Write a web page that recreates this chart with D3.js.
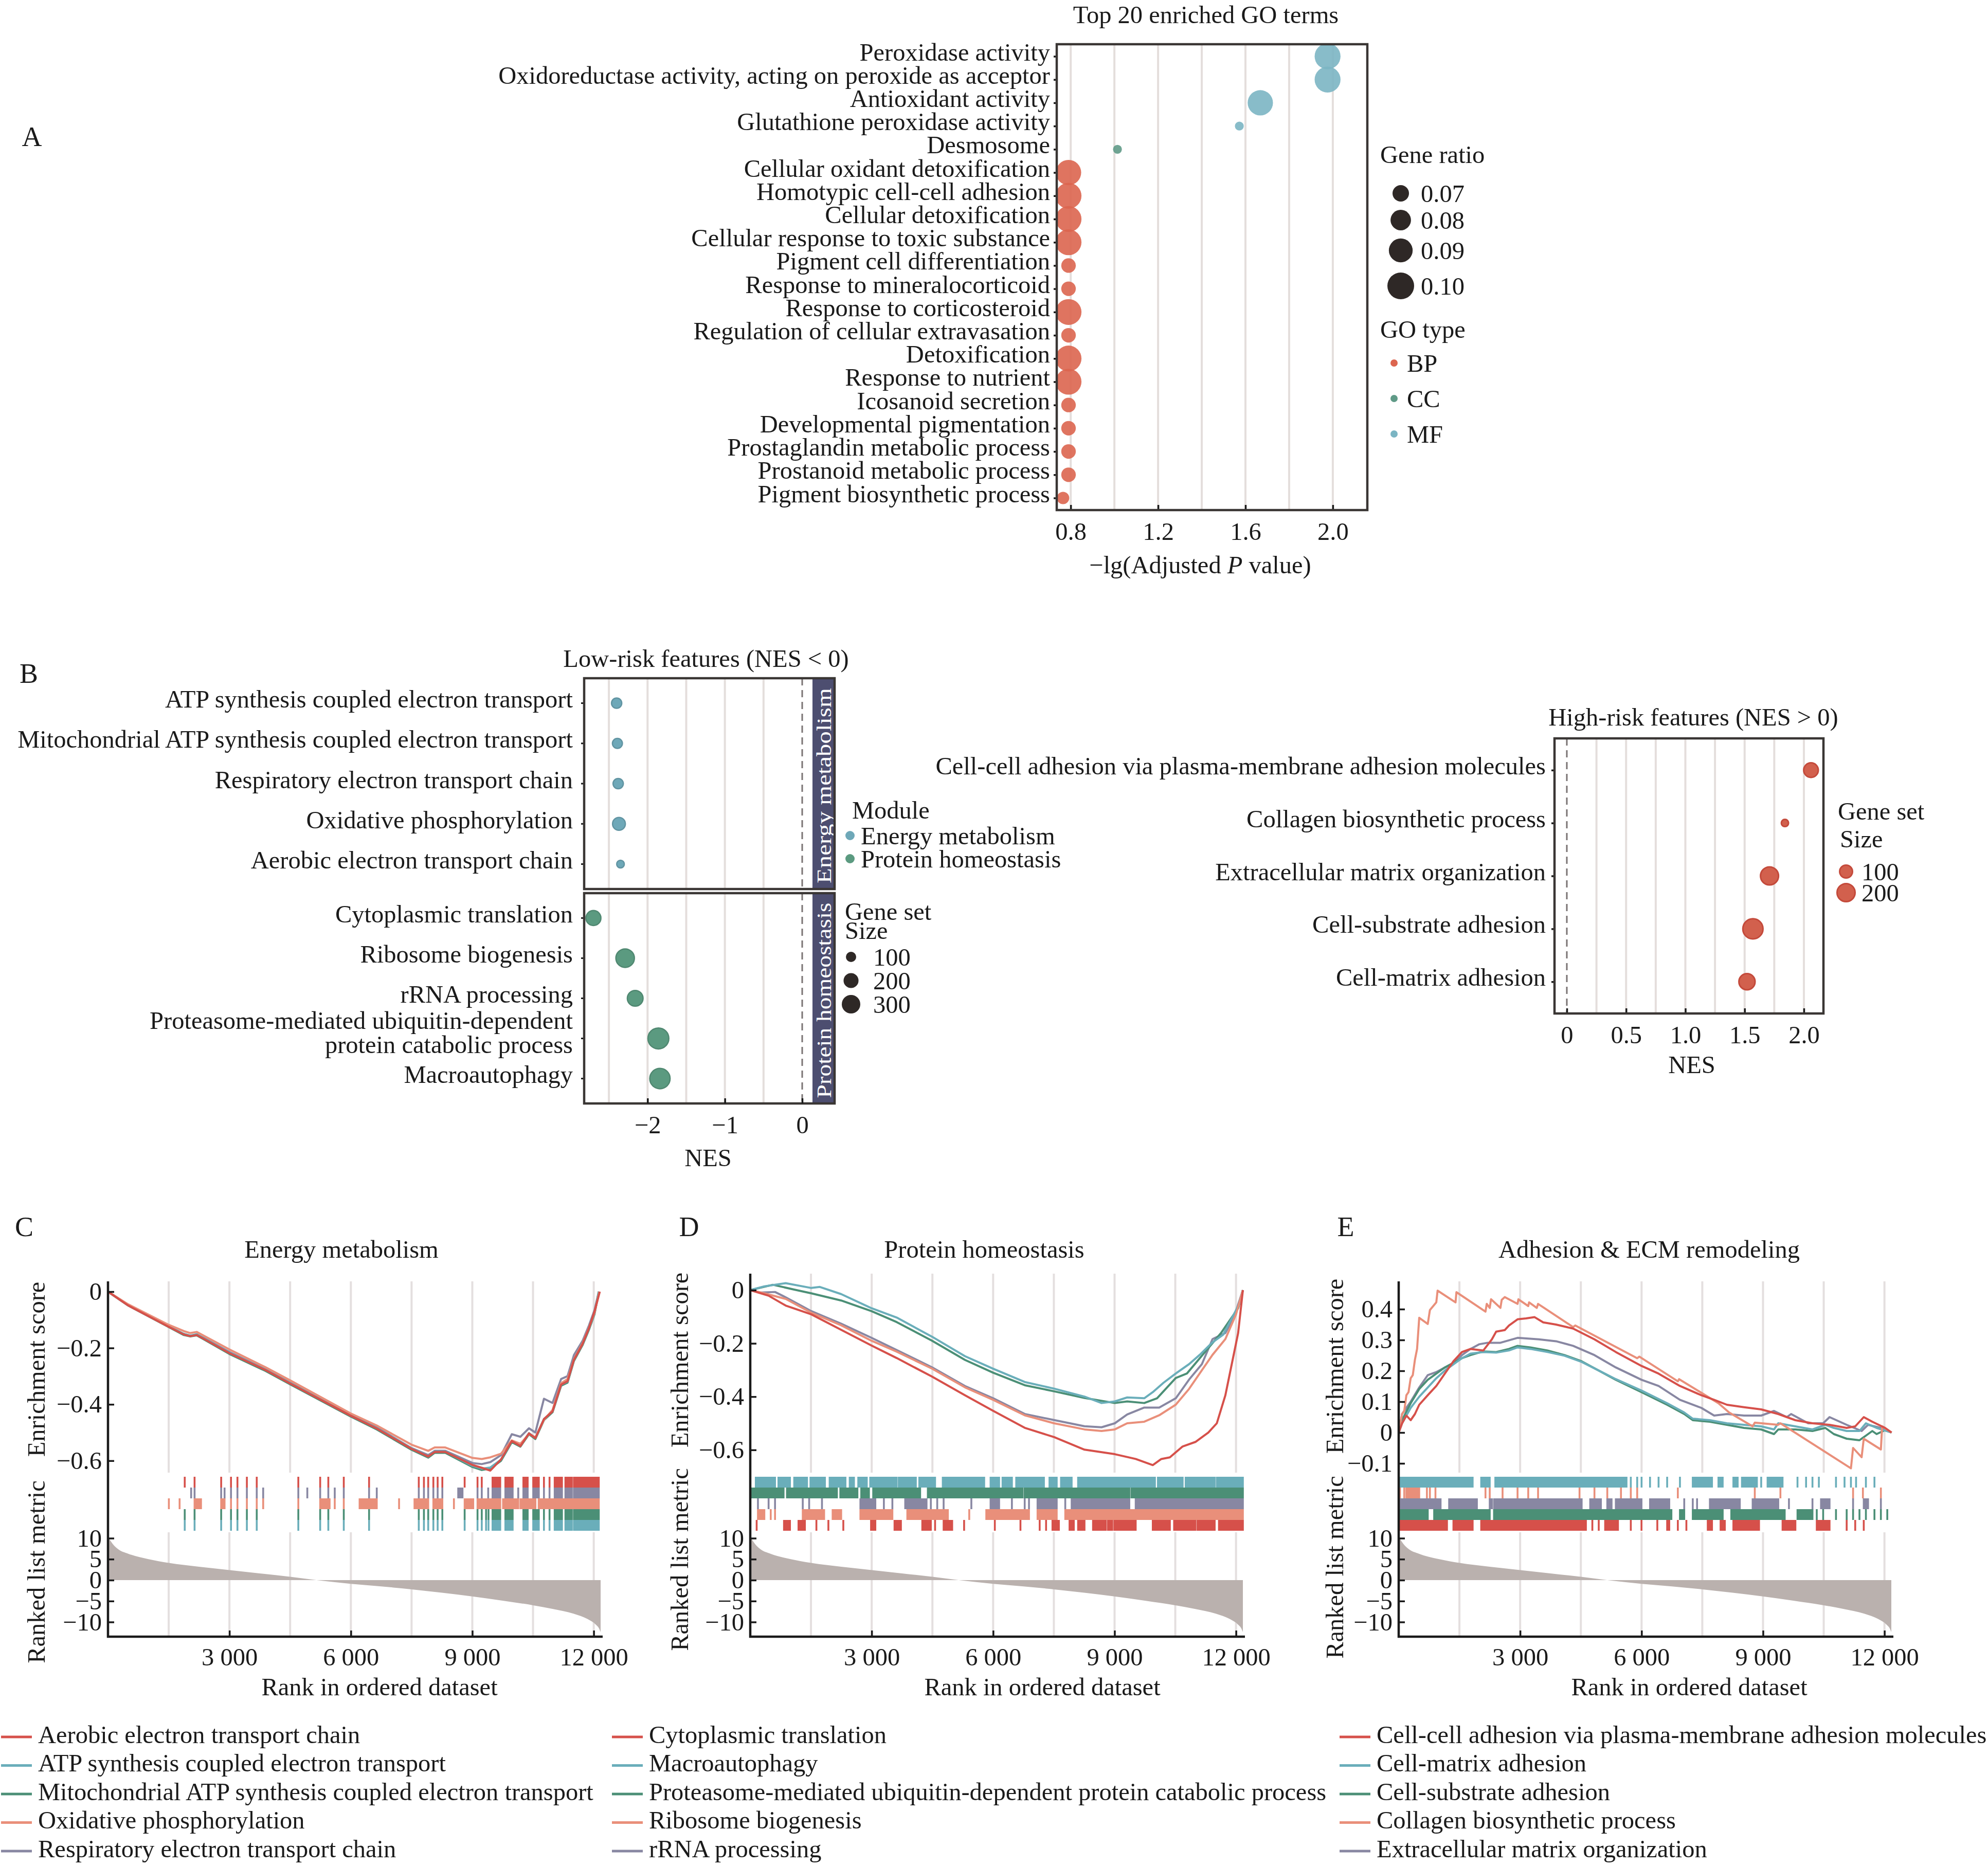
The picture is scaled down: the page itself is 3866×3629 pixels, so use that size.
<!DOCTYPE html>
<html>
<head>
<meta charset="utf-8">
<script src="https://cdn.jsdelivr.net/npm/d3@7"></script>
<style>
  body { margin: 0; background: #fff; }
  text { font-family: "Liberation Serif", "Times New Roman", serif; fill: #1a1a1a; }
</style>
</head>
<body>
<div id="app"></div>
<script>
// ---------- data: panel A (GO terms) ----------
const goTerms = ["Peroxidase activity", "Oxidoreductase activity, acting on peroxide as acceptor",
  "Antioxidant activity", "Glutathione peroxidase activity", "Desmosome",
  "Cellular oxidant detoxification", "Homotypic cell-cell adhesion", "Cellular detoxification",
  "Cellular response to toxic substance", "Pigment cell differentiation", "Response to mineralocorticoid",
  "Response to corticosteroid", "Regulation of cellular extravasation", "Detoxification",
  "Response to nutrient", "Icosanoid secretion", "Developmental pigmentation",
  "Prostaglandin metabolic process", "Prostanoid metabolic process", "Pigment biosynthetic process"];
const goScore = [1.976, 1.976, 1.668, 1.572, 1.014, 0.79, 0.79, 0.79, 0.79, 0.79,
  0.79, 0.79, 0.79, 0.79, 0.79, 0.79, 0.79, 0.79, 0.79, 0.765];
const goRatio = [0.097, 0.097, 0.095, 0.057, 0.057, 0.095, 0.097, 0.097, 0.097, 0.066,
  0.066, 0.097, 0.066, 0.097, 0.097, 0.066, 0.066, 0.066, 0.066, 0.062];
const goType = ["MF", "MF", "MF", "MF", "CC", "BP", "BP", "BP", "BP", "BP",
  "BP", "BP", "BP", "BP", "BP", "BP", "BP", "BP", "BP", "BP"];
const goTypes = ["BP", "CC", "MF"];
const goRatioLegend = [0.07, 0.08, 0.09, 0.10];
const goTicks = [0.8, 1.2, 1.6, 2.0];

// ---------- data: panel B (NES dot plots) ----------
const modules = ["Energy metabolism", "Protein homeostasis"];
const lowTerms = ["ATP synthesis coupled electron transport", "Mitochondrial ATP synthesis coupled electron transport",
  "Respiratory electron transport chain", "Oxidative phosphorylation", "Aerobic electron transport chain",
  "Cytoplasmic translation", "Ribosome biogenesis", "rRNA processing",
  "Proteasome-mediated ubiquitin-dependent protein catabolic process", "Macroautophagy"];
const lowModule = [0, 0, 0, 0, 0, 1, 1, 1, 1, 1];
const lowNES = [-2.40, -2.39, -2.38, -2.37, -2.35, -2.70, -2.29, -2.16, -1.86, -1.84];
const lowSize = [100, 95, 100, 150, 60, 200, 300, 220, 380, 360];
const lowSizeLegend = [100, 200, 300];
const lowTicks = [-2, -1, 0];

const highTerms = ["Cell-cell adhesion via plasma-membrane adhesion molecules", "Collagen biosynthetic process",
  "Extracellular matrix organization", "Cell-substrate adhesion", "Cell-matrix adhesion"];
const highNES = [2.06, 1.84, 1.71, 1.57, 1.52];
const highSize = [130, 30, 200, 250, 160];
const highSizeLegend = [100, 200];
const highTicks = [0, 0.5, 1.0, 1.5, 2.0];

// ---------- data: panels C-E (GSEA running sums) ----------
const rankMax = 12170;
const rankTicks = [3000, 6000, 9000, 12000];
const rankedMetric = [[0, 10.3], [120, 8.6], [250, 7.4], [500, 6.3], [1000, 5.0], [1500, 4.1], [2250, 3.2],
  [3000, 2.4], [3750, 1.6], [4500, 0.8], [5150, 0], [6000, -0.9], [6750, -1.5], [7500, -2.2], [8250, -3.0],
  [9000, -3.9], [9750, -4.9], [10500, -6.0], [11000, -6.9], [11500, -8.0], [11850, -9.3], [12050, -10.6],
  [12130, -11.5], [12170, -12.4]];

const energySets = ["Aerobic electron transport chain", "ATP synthesis coupled electron transport",
  "Mitochondrial ATP synthesis coupled electron transport", "Oxidative phosphorylation",
  "Respiratory electron transport chain"];
const energyES = [
  [[0,0],[498,-0.049],[1504,-0.125],[1874,-0.152],[2033,-0.158],[2192,-0.154],[2351,-0.166],[2997,-0.218],[3887,-0.278],[4501,-0.326],[5994,-0.440],[6640,-0.486],[7498,-0.558],[7911,-0.585],[8070,-0.569],[8334,-0.569],[9002,-0.615],[9234,-0.625],[9446,-0.635],[9711,-0.595],[9976,-0.530],[10188,-0.548],[10400,-0.503],[10558,-0.520],[10770,-0.452],[10982,-0.425],[11194,-0.330],[11353,-0.318],[11511,-0.242],[11723,-0.186],[11882,-0.130],[12020,-0.070],[12150,0]],
  [[0,0],[498,-0.047],[1504,-0.123],[1874,-0.150],[2033,-0.156],[2192,-0.151],[2351,-0.164],[2997,-0.217],[3887,-0.277],[4501,-0.325],[5994,-0.439],[6640,-0.485],[7498,-0.557],[7911,-0.585],[8070,-0.568],[8334,-0.568],[9002,-0.618],[9234,-0.628],[9446,-0.624],[9711,-0.596],[9976,-0.530],[10188,-0.546],[10400,-0.502],[10558,-0.519],[10770,-0.452],[10982,-0.424],[11194,-0.330],[11353,-0.319],[11511,-0.242],[11723,-0.186],[11882,-0.131],[12020,-0.076],[12130,0]],
  [[0,0],[498,-0.049],[1504,-0.126],[1874,-0.154],[2033,-0.159],[2192,-0.155],[2351,-0.168],[2997,-0.221],[3887,-0.281],[4501,-0.329],[5994,-0.443],[6640,-0.489],[7498,-0.561],[7911,-0.589],[8070,-0.572],[8334,-0.572],[9002,-0.622],[9234,-0.633],[9446,-0.628],[9711,-0.600],[9976,-0.534],[10188,-0.550],[10400,-0.506],[10558,-0.523],[10770,-0.456],[10982,-0.428],[11194,-0.334],[11353,-0.323],[11511,-0.246],[11723,-0.190],[11882,-0.135],[12020,-0.080],[12125,0]],
  [[0,0],[498,-0.045],[1504,-0.118],[1874,-0.140],[2033,-0.147],[2192,-0.143],[2351,-0.155],[2997,-0.205],[3887,-0.268],[4501,-0.315],[5994,-0.432],[6640,-0.475],[7498,-0.543],[7911,-0.565],[8070,-0.553],[8334,-0.553],[9002,-0.590],[9234,-0.594],[9446,-0.588],[9711,-0.575],[9976,-0.528],[10188,-0.540],[10400,-0.505],[10558,-0.517],[10770,-0.455],[10982,-0.420],[11194,-0.325],[11353,-0.310],[11511,-0.240],[11723,-0.183],[11882,-0.128],[12020,-0.075],[12140,0]],
  [[0,0],[498,-0.049],[1504,-0.124],[1874,-0.150],[2033,-0.157],[2192,-0.152],[2351,-0.163],[2997,-0.214],[3887,-0.275],[4501,-0.323],[5994,-0.437],[6640,-0.482],[7498,-0.555],[7911,-0.580],[8070,-0.565],[8334,-0.565],[9002,-0.608],[9234,-0.612],[9446,-0.605],[9711,-0.580],[9976,-0.506],[10188,-0.515],[10400,-0.485],[10558,-0.500],[10770,-0.380],[10982,-0.395],[11194,-0.310],[11353,-0.300],[11511,-0.225],[11723,-0.175],[11882,-0.120],[12020,-0.065],[12125,0]]
];
const energyHits = [
  [1896,2139,2796,3039,3198,3431,3675,4702,5242,5443,5825,6450,7678,7805,7911,8038,8144,8260,8811,9129,9234,[9500,9690],[9817,9997],[10262,10368],[10505,10643],10770,10908,[11035,11215],[11300,11459],[11511,11776],[11808,12125]],
  [1896,2139,2796,3039,3198,3431,3675,4702,5242,5443,5825,6450,7678,7805,7911,8038,8144,8260,8811,9129,9234,9340,9400,[9500,9690],[9817,9997],[10262,10368],[10505,10643],10770,10908,[11035,11215],[11300,11459],[11511,11776],[11808,12125]],
  [1896,2139,2796,3039,3198,3431,3675,4702,5242,5443,5825,6450,7678,7805,7911,8038,8144,8260,8811,9129,9234,9340,9400,[9500,9690],[9817,9997],[10262,10368],[10505,10643],10770,10908,[11035,11215],[11300,11459],[11511,11776],[11808,12125]],
  [1504,1769,[2139,2298],[2796,2880],3039,3198,3431,3675,3834,4702,[5242,5475],5602,5825,[6216,6640],7191,[7572,7911],[8038,8260],8546,[8811,9023],[9129,9690],[9760,10135],[10190,10560],[10640,12125]],
  [2054,2139,2796,2880,3039,3198,3431,3675,3834,4702,4924,5242,5443,5602,5825,6450,6640,7678,7805,7911,8038,8144,8260,[8652,8758],9129,9234,9393,[9500,9690],[9817,9997],10135,[10262,10368],[10505,10643],10770,10908,[11035,11215],[11300,11459],[11511,12125]]
];

const proteinSets = ["Cytoplasmic translation", "Macroautophagy",
  "Proteasome-mediated ubiquitin-dependent protein catabolic process", "Ribosome biogenesis", "rRNA processing"];
const proteinES = [
  [[0,0],[453,-0.021],[875,-0.058],[1508,-0.091],[2246,-0.149],[2995,-0.208],[3617,-0.255],[4492,-0.325],[5304,-0.395],[6000,-0.453],[6781,-0.517],[7508,-0.552],[8257,-0.599],[9006,-0.616],[9522,-0.634],[9944,-0.657],[10155,-0.634],[10366,-0.628],[10682,-0.587],[10998,-0.570],[11315,-0.535],[11526,-0.500],[11737,-0.395],[11895,-0.278],[12053,-0.161],[12170,0]],
  [[0,0],[348,0.014],[875,0.026],[1508,0.008],[1719,0.012],[2246,-0.015],[2995,-0.068],[3617,-0.103],[4492,-0.175],[5304,-0.248],[6000,-0.295],[6781,-0.345],[7508,-0.370],[8257,-0.400],[8679,-0.424],[9006,-0.418],[9311,-0.403],[9733,-0.406],[9944,-0.383],[10208,-0.348],[10513,-0.313],[10840,-0.278],[11104,-0.243],[11420,-0.196],[11684,-0.167],[11947,-0.091],[12106,-0.044],[12170,0]],
  [[0,0],[559,0.020],[1086,0.002],[1508,-0.012],[2246,-0.039],[2995,-0.079],[3617,-0.120],[4492,-0.190],[5304,-0.262],[6000,-0.310],[6781,-0.357],[7508,-0.380],[8257,-0.405],[9006,-0.424],[9311,-0.418],[9733,-0.424],[10050,-0.406],[10513,-0.330],[10788,-0.313],[11209,-0.237],[11631,-0.161],[11842,-0.114],[12053,-0.068],[12170,0]],
  [[0,0],[348,-0.012],[875,-0.033],[1508,-0.085],[2246,-0.132],[2995,-0.190],[3617,-0.231],[4492,-0.295],[5304,-0.365],[6000,-0.412],[6781,-0.470],[7508,-0.500],[8257,-0.523],[8679,-0.529],[9006,-0.523],[9311,-0.500],[9733,-0.494],[10102,-0.470],[10513,-0.430],[10840,-0.371],[11157,-0.301],[11420,-0.243],[11737,-0.184],[12000,-0.091],[12170,0]],
  [[0,0],[243,-0.009],[612,-0.007],[875,-0.027],[1508,-0.079],[2246,-0.126],[2995,-0.179],[3617,-0.225],[4492,-0.290],[5304,-0.360],[6000,-0.406],[6781,-0.465],[7508,-0.488],[8257,-0.511],[8679,-0.515],[9006,-0.500],[9311,-0.467],[9733,-0.441],[10102,-0.441],[10513,-0.406],[10840,-0.336],[11157,-0.278],[11420,-0.184],[11737,-0.161],[11947,-0.103],[12170,0]]
];
const proteinHits = [
  [158,[834,981],[1192,1350],1634,1930,2299,[2984,3090],[3564,3722],[4250,4461],4566,[4777,4988],5283,6042,6675,7150,7308,[7466,7624],[7888,7993],[8099,8257],[8468,8784],[8837,8942],[8995,9522],[9944,10366],[10471,10998],[11051,11473],[11579,12170]],
  [[137,612],[696,981],[1086,1403],[1487,1845],[1961,2352],[2457,2562],[2668,2879],[2963,3617],[3670,4091],[4176,4566],[4756,5779],[5937,6148],[6232,6464],[6570,7255],[7392,7571],[7677,7940],[8099,9997],[10071,10682],[10756,11473],[11526,12170]],
  [[0,823],[907,2141],[2225,2647],[2742,2932],[3037,4197],[4387,6728],[6780,9364],[9417,12170]],
  [[190,348],506,612,[1297,1825],[2035,2246],[2721,3511],[3880,4882],5410,[5831,6886],[7097,7571],[7782,12170]],
  [190,453,612,1297,1455,1772,[2721,3090],3301,3511,[3828,4355],4461,4619,4777,5462,[5937,6148],6464,6780,6886,[7097,7571],7782,[7940,9364],[9522,12170]]
];

const adhesionSets = ["Cell-cell adhesion via plasma-membrane adhesion molecules", "Cell-matrix adhesion",
  "Cell-substrate adhesion", "Collagen biosynthetic process", "Extracellular matrix organization"];
const adhesionES = [
  [[0,0],[84,0.030],[190,0.055],[296,0.040],[401,0.060],[507,0.090],[718,0.121],[929,0.151],[1140,0.191],[1352,0.231],[1563,0.261],[1774,0.271],[2091,0.266],[2302,0.302],[2408,0.327],[2619,0.332],[2724,0.347],[2936,0.367],[3147,0.370],[3358,0.374],[3570,0.357],[3886,0.350],[4308,0.337],[4836,0.302],[5364,0.261],[5998,0.216],[6420,0.191],[6948,0.151],[7476,0.121],[7793,0.106],[8110,0.090],[8532,0.082],[8955,0.075],[9377,0.060],[9800,0.040],[10222,0.030],[10644,0.025],[11067,0.015],[11278,0.020],[11489,0.050],[11700,0.035],[12017,0.015],[12176,0]],
  [[0,0],[84,0.030],[296,0.080],[507,0.116],[718,0.146],[929,0.176],[1140,0.201],[1352,0.221],[1563,0.241],[1774,0.256],[2091,0.261],[2408,0.259],[2724,0.266],[2936,0.276],[3252,0.271],[3675,0.261],[4097,0.249],[4520,0.229],[4942,0.201],[5364,0.173],[5998,0.136],[6632,0.095],[7054,0.065],[7265,0.045],[7688,0.040],[8110,0.030],[8532,0.025],[8955,0.020],[9272,0.010],[9377,0.030],[9800,0.020],[10222,0.010],[10539,0.025],[10750,0.015],[11067,0.005],[11383,0.005],[11542,0.030],[11806,0.015],[12176,0]],
  [[0,0],[84,0.040],[296,0.095],[507,0.141],[718,0.171],[929,0.191],[1140,0.211],[1352,0.226],[1563,0.241],[1774,0.251],[2091,0.263],[2408,0.261],[2724,0.271],[2936,0.281],[3252,0.276],[3675,0.266],[4097,0.251],[4520,0.231],[4942,0.201],[5364,0.171],[5998,0.131],[6632,0.090],[7054,0.060],[7265,0.040],[7688,0.035],[8110,0.025],[8532,0.015],[8955,0.010],[9272,-0.005],[9377,0.010],[9800,0.010],[10222,0.005],[10539,0.015],[10750,-0.005],[11067,-0.020],[11383,-0.025],[11542,-0.010],[11700,0.005],[11806,-0.005],[12017,0.008],[12176,0]],
  [[0,0],[84,0.060],[137,0.070],[190,0.121],[243,0.131],[296,0.176],[348,0.186],[401,0.236],[454,0.271],[507,0.372],[718,0.352],[771,0.397],[929,0.422],[961,0.460],[1404,0.422],[1426,0.455],[2144,0.392],[2175,0.417],[2249,0.404],[2281,0.432],[2513,0.404],[2545,0.430],[2619,0.439],[2936,0.417],[2957,0.432],[3200,0.410],[3221,0.422],[3411,0.404],[3443,0.417],[4308,0.342],[4361,0.347],[5892,0.241],[5945,0.246],[6896,0.166],[6927,0.173],[7899,0.095],[8163,0.065],[8744,0.020],[8797,0.032],[9377,0.025],[9430,0.030],[11172,-0.116],[11225,-0.050],[11436,-0.080],[11489,-0.020],[11912,-0.055],[11943,0.020],[12176,0]],
  [[0,0],[84,0.060],[296,0.100],[507,0.146],[718,0.186],[929,0.196],[1140,0.211],[1352,0.226],[1563,0.251],[1774,0.271],[1985,0.286],[2197,0.291],[2513,0.291],[2936,0.307],[3464,0.302],[3886,0.296],[4308,0.281],[4836,0.251],[5364,0.211],[5998,0.171],[6420,0.151],[6948,0.106],[7476,0.080],[7793,0.055],[8110,0.060],[8532,0.055],[8955,0.055],[9272,0.070],[9588,0.050],[9694,0.060],[10116,0.030],[10486,0.030],[10644,0.050],[11067,0.025],[11436,0.005],[11595,0.025],[11912,0.015],[12176,0]]
];
const adhesionHits = [
  [[32,1193],[1352,1827],[2038,4625],4784,4942,[5100,5417],5734,5998,6389,[6632,6684],6896,7107,[7635,7740],[7952,8057],[8268,8902],[9483,9800],[10328,10644],11067,11278,11489],
  [[0,1827],[2038,2249],[2387,5628],5734,5892,6000,6209,6420,6632,6948,[7265,7740],[7899,8004],[8268,8374],[8480,8849],8955,[9113,9483],9852,10064,10222,10380,10803,11014,11172,11299,11542,11753],
  [[0,718],[876,2249],[2355,6737],[6948,7054],[7265,8004],[8216,9536],[9852,10222],10328,10486,10803,11067,11225,11383,11542,11753,11912,12070],
  [32,137,[190,507],697,771,908,2144,2249,2566,2936,3200,3443,4467,4836,5153,5491,5734,5892,6896,8797,9430,11225,11468,11912],
  [[32,1035],[1246,1932],[2249,2302],[2355,4520],[4731,4995],[5153,5259],[5364,5998],[6209,6684],7054,7265,7371,[7688,8427],[8744,9377],9641,10222,[10433,10644],11225,[11489,11595],11912]
];

// ---------- drawing ----------
const W = 3866, H = 3629, FS = 48.5;
const setColors = ["#d6504a", "#6aaeba", "#4b8f76", "#e98f7a", "#8887a2"];
const ink = "#1a1a1a", frame = "#3a3634", gridCol = "#e4dedc";
const labelLift = -8;   // row labels sit a little above their tick

const svg = d3.select("#app").append("svg").attr("width", W).attr("height", H);
svg.append("rect").attr("width", W).attr("height", H).attr("fill", "#fff");

function txt(g, x, y, s, anchor, size) {
  return g.append("text").attr("x", x).attr("y", y)
    .attr("dominant-baseline", "central")
    .attr("text-anchor", anchor || "start")
    .attr("font-size", size || FS)
    .text(s);
}
function vtxt(g, x, y, s, size) {
  return g.append("text").attr("transform", `translate(${x},${y}) rotate(-90)`)
    .attr("dominant-baseline", "central").attr("text-anchor", "middle")
    .attr("font-size", size || FS).text(s);
}
function styleAxis(sel, keepDomain) {
  sel.attr("font-size", FS).attr("font-family", null).attr("color", ink);
  sel.selectAll(".tick line").attr("stroke-width", 3.5);
  if (!keepDomain) sel.select(".domain").remove();
}

// ===== Panel A =====
const gA = svg.append("g");
const aX = d3.scaleLinear().domain([0.736, 2.158]).range([2055, 2659]);
const aY = d3.scalePoint().domain(goTerms).range([86, 992]).padding(0.52);
const aArea = d3.scaleLinear().domain([0.07, 0.10]).range([256, 676]);
const aR = v => Math.sqrt(Math.max(aArea(v), 30));
const goColor = d3.scaleOrdinal().domain(goTypes).range(["#dc654f", "#5f9a87", "#7bb5c3"]);

gA.selectAll("line.grid").data(d3.range(0.8, 2.01, 0.2)).join("line")
  .attr("x1", d => aX(d)).attr("x2", d => aX(d)).attr("y1", 86).attr("y2", 992)
  .attr("stroke", gridCol).attr("stroke-width", 4);

const goData = goTerms.map((t, i) => ({ t, x: goScore[i], r: goRatio[i], type: goType[i] }));
gA.selectAll("circle.go").data(goData).join("circle")
  .attr("cx", d => aX(d.x)).attr("cy", d => aY(d.t)).attr("r", d => aR(d.r))
  .attr("fill", d => goColor(d.type)).attr("fill-opacity", 0.9);

gA.append("g").attr("transform", "translate(2055,0)")
  .call(d3.axisLeft(aY).tickSize(6).tickPadding(7))
  .call(styleAxis)
  .call(a => a.selectAll(".tick text").attr("y", labelLift));
gA.append("g").attr("transform", "translate(0,992)")
  .call(d3.axisBottom(aX).tickValues(goTicks).tickFormat(d3.format(".1f")).tickSize(-10).tickPadding(24))
  .call(styleAxis);
gA.append("rect").attr("x", 2055).attr("y", 86).attr("width", 604).attr("height", 906)
  .attr("fill", "none").attr("stroke", frame).attr("stroke-width", 4.5);

txt(gA, 2345, 28, "Top 20 enriched GO terms", "middle");
const xlabA = gA.append("text").attr("x", 2334).attr("y", 1098).attr("dominant-baseline", "central")
  .attr("text-anchor", "middle").attr("font-size", FS);
xlabA.append("tspan").text("\u2212lg(Adjusted ");
xlabA.append("tspan").attr("font-style", "italic").text("P");
xlabA.append("tspan").text(" value)");
txt(gA, 62, 266, "A", "middle", 54);

// legends A
txt(gA, 2684, 300, "Gene ratio");
const ratioY = [376, 428, 487, 556];
goRatioLegend.forEach((v, i) => {
  gA.append("circle").attr("cx", 2724).attr("cy", ratioY[i]).attr("r", aR(v)).attr("fill", "#2e2826");
  txt(gA, 2763, ratioY[i], d3.format(".2f")(v));
});
txt(gA, 2684, 640, "GO type");
goTypes.forEach((t, i) => {
  const y = 706 + i * 69;
  gA.append("circle").attr("cx", 2711).attr("cy", y).attr("r", 7).attr("fill", goColor(t));
  txt(gA, 2736, y, t);
});

// ===== Panel B (low-risk) =====
const gB = svg.append("g");
const bX = d3.scaleLinear().domain([-2.82, 0.133]).range([1136, 1580]);
const modColor = d3.scaleOrdinal().domain(modules).range(["#6ea8b8", "#5b9a80"]);
const bArea = d3.scaleLinear().domain([100, 300]).range([100, 324]);
const bR = v => Math.sqrt(Math.max(bArea(v), 30));
const facets = [{ m: 0, y0: 1319, y1: 1729 }, { m: 1, y0: 1737, y1: 2146 }];
const lowData = lowTerms.map((t, i) => ({ t, m: lowModule[i], nes: lowNES[i], size: lowSize[i] }));
const wrapLines = { "Proteasome-mediated ubiquitin-dependent protein catabolic process":
  ["Proteasome-mediated ubiquitin-dependent", "protein catabolic process"] };

facets.forEach(f => {
  const rows = lowData.filter(d => d.m === f.m);
  const y = d3.scalePoint().domain(rows.map(d => d.t)).range([f.y0, f.y1]).padding(0.62);
  gB.selectAll(null).data(d3.range(-2.5, -0.4, 0.5)).join("line")
    .attr("x1", d => bX(d)).attr("x2", d => bX(d)).attr("y1", f.y0).attr("y2", f.y1)
    .attr("stroke", gridCol).attr("stroke-width", 4);
  gB.append("line").attr("x1", bX(0)).attr("x2", bX(0)).attr("y1", f.y0).attr("y2", f.y1)
    .attr("stroke", "#7a7474").attr("stroke-width", 3).attr("stroke-dasharray", "14,9");
  gB.selectAll(null).data(rows).join("circle")
    .attr("cx", d => bX(d.nes)).attr("cy", d => y(d.t)).attr("r", d => bR(d.size))
    .attr("fill", modColor(modules[f.m])).attr("stroke", d3.color(modColor(modules[f.m])).darker(0.35))
    .attr("stroke-width", 2.5);
  rows.forEach(d => {
    gB.append("line").attr("x1", 1130).attr("x2", 1136).attr("y1", y(d.t)).attr("y2", y(d.t))
      .attr("stroke", ink).attr("stroke-width", 3);
    const lines = wrapLines[d.t];
    if (lines) {
      txt(gB, 1114, y(d.t) - 27 + labelLift, lines[0], "end");
      txt(gB, 1114, y(d.t) + 20 + labelLift, lines[1], "end");
    } else {
      txt(gB, 1114, y(d.t) + labelLift, d.t, "end");
    }
  });
  gB.append("rect").attr("x", 1580).attr("y", f.y0).attr("width", 43).attr("height", f.y1 - f.y0)
    .attr("fill", "#4d4e70");
  vtxt(gB, 1602, (f.y0 + f.y1) / 2 + 4, modules[f.m], 40)
    .style("fill", "#fff").attr("textLength", 380).attr("lengthAdjust", "spacingAndGlyphs");
  gB.append("rect").attr("x", 1136).attr("y", f.y0).attr("width", 487).attr("height", f.y1 - f.y0)
    .attr("fill", "none").attr("stroke", frame).attr("stroke-width", 4.5);
});
gB.append("g").attr("transform", "translate(0,2146)")
  .call(d3.axisBottom(bX).tickValues(lowTicks).tickFormat(d3.format("d")).tickSize(-10).tickPadding(24))
  .call(styleAxis);
txt(gB, 1373, 1280, "Low-risk features (NES < 0)", "middle");
txt(gB, 1377, 2251, "NES", "middle");
txt(gB, 56, 1310, "B", "middle", 54);

txt(gB, 1657, 1575, "Module");
modules.forEach((m, i) => {
  const y = 1625 + i * 45;
  gB.append("circle").attr("cx", 1653).attr("cy", y).attr("r", 9).attr("fill", modColor(m));
  txt(gB, 1674, y, m);
});
txt(gB, 1643, 1772, "Gene set");
txt(gB, 1643, 1809, "Size");
lowSizeLegend.forEach((v, i) => {
  const y = 1861 + i * 46;
  gB.append("circle").attr("cx", 1655).attr("cy", y).attr("r", bR(v)).attr("fill", "#2e2826");
  txt(gB, 1698, y, v);
});

// ===== Panel B (high-risk) =====
const gH = svg.append("g");
const hX = d3.scaleLinear().domain([-0.104, 2.165]).range([3023, 3546]);
const hY = d3.scalePoint().domain(highTerms).range([1436, 1971]).padding(0.6);
const hArea = d3.scaleLinear().domain([30, 250]).range([49, 384]);
const hR = v => Math.sqrt(hArea(v));
const highFill = "#d2604d";
gH.selectAll(null).data(d3.range(0.25, 2.01, 0.25)).join("line")
  .attr("x1", d => hX(d)).attr("x2", d => hX(d)).attr("y1", 1436).attr("y2", 1971)
  .attr("stroke", gridCol).attr("stroke-width", 4);
gH.append("line").attr("x1", hX(0)).attr("x2", hX(0)).attr("y1", 1436).attr("y2", 1971)
  .attr("stroke", "#7a7474").attr("stroke-width", 3).attr("stroke-dasharray", "14,9");
gH.selectAll(null).data(highTerms.map((t, i) => ({ t, nes: highNES[i], size: highSize[i] }))).join("circle")
  .attr("cx", d => hX(d.nes)).attr("cy", d => hY(d.t)).attr("r", d => hR(d.size))
  .attr("fill", highFill).attr("stroke", "#c44a3b").attr("stroke-width", 3);
gH.append("g").attr("transform", "translate(3023,0)")
  .call(d3.axisLeft(hY).tickSize(6).tickPadding(11))
  .call(styleAxis)
  .call(a => a.selectAll(".tick text").attr("y", labelLift));
gH.append("g").attr("transform", "translate(0,1971)")
  .call(d3.axisBottom(hX).tickValues(highTicks).tickFormat(d => d === 0 ? "0" : d3.format(".1f")(d)).tickSize(-10).tickPadding(24))
  .call(styleAxis);
gH.append("rect").attr("x", 3023).attr("y", 1436).attr("width", 523).attr("height", 535)
  .attr("fill", "none").attr("stroke", frame).attr("stroke-width", 4.5);
txt(gH, 3293, 1394, "High-risk features (NES > 0)", "middle");
txt(gH, 3290, 2070, "NES", "middle");
txt(gH, 3574, 1577, "Gene set");
txt(gH, 3578, 1631, "Size");
highSizeLegend.forEach((v, i) => {
  const y = 1695 + i * 41;
  gH.append("circle").attr("cx", 3590).attr("cy", y).attr("r", hR(v)).attr("fill", highFill)
    .attr("stroke", "#c44a3b").attr("stroke-width", 3);
  txt(gH, 3620, y, v);
});

// ===== Panels C-E =====
const gseaPanels = [
  { letter: "C", letterX: 47, title: "Energy metabolism", titleX: 664, sets: energySets, es: energyES, hits: energyHits,
    hitOrder: [0, 4, 3, 2, 1], x0: 210, es0: 2512, esPx: 548, esTop: 2492, esTicks: [0, -0.2, -0.4, -0.6],
    yLabX: 70, esLabY: 2663, rkLabY: 3057, xLabX: 738 },
  { letter: "D", letterX: 1340, title: "Protein homeostasis", titleX: 1914, sets: proteinSets, es: proteinES, hits: proteinHits,
    hitOrder: [1, 2, 4, 3, 0], x0: 1459, es0: 2509, esPx: 518, esTop: 2477, esTicks: [0, -0.2, -0.4, -0.6],
    yLabX: 1321, esLabY: 2645, rkLabY: 3033, xLabX: 2027 },
  { letter: "E", letterX: 2617, title: "Adhesion & ECM remodeling", titleX: 3207, sets: adhesionSets, es: adhesionES, hits: adhesionHits,
    hitOrder: [1, 3, 4, 2, 0], x0: 2720, es0: 2786, esPx: 600, esTop: 2492, esTicks: [0.4, 0.3, 0.2, 0.1, 0, -0.1],
    yLabX: 2595, esLabY: 2657, rkLabY: 3048, xLabX: 3285 }
];
const rkY = d3.scaleLinear().domain([0, 10]).range([3073, 2991.5]);

gseaPanels.forEach(p => {
  const g = svg.append("g");
  const x = d3.scaleLinear().domain([0, rankMax]).range([p.x0, p.x0 + 958]);
  const esY = d3.scaleLinear().domain([0, 1]).range([p.es0, p.es0 - p.esPx]);
  const xEnd = x(rankMax);

  g.selectAll(null).data(d3.range(1500, 12001, 1500)).join("line")
    .attr("x1", d => x(d)).attr("x2", d => x(d)).attr("y1", p.esTop).attr("y2", 3183)
    .attr("stroke", "#e4dfdf").attr("stroke-width", 4);
  g.append("rect").attr("x", p.x0 + 3).attr("y", 2864).attr("width", xEnd - p.x0 + 12).attr("height", 116)
    .attr("fill", "#fff");

  g.append("path").datum(rankedMetric)
    .attr("d", d3.area().x(d => x(d[0])).y0(rkY(0)).y1(d => rkY(d[1])).curve(d3.curveMonotoneX))
    .attr("fill", "#bab1ae");

  p.hitOrder.forEach((si, row) => {
    const segs = p.hits[si].map(h => typeof h === "number" ? [h, h] : h);
    g.append("g").selectAll("rect").data(segs).join("rect")
      .attr("x", d => x(d[0]) - 1.8).attr("width", d => x(d[1]) - x(d[0]) + 3.6)
      .attr("y", 2872 + row * 21).attr("height", 21).attr("fill", setColors[si]);
  });

  const line = d3.line().x(d => x(d[0])).y(d => esY(d[1]));
  [4, 2, 1, 3, 0].forEach(si => {
    g.append("path").datum(p.es[si]).attr("d", line).attr("fill", "none")
      .attr("stroke", setColors[si]).attr("stroke-width", 4).attr("stroke-linejoin", "round");
  });

  g.append("g").attr("transform", `translate(${p.x0},0)`)
    .call(d3.axisLeft(esY).tickValues(p.esTicks).tickFormat(d => d === 0 ? "0" : d3.format(".1f")(d)).tickSize(-12).tickPadding(12))
    .call(styleAxis);
  g.append("g").attr("transform", `translate(${p.x0},0)`)
    .call(d3.axisLeft(rkY).tickValues([10, 5, 0, -5, -10]).tickFormat(d3.format("d")).tickSize(-12).tickPadding(12))
    .call(styleAxis);
  g.append("g").attr("transform", "translate(0,3183)")
    .call(d3.axisBottom(x).tickValues(rankTicks).tickFormat(d => d3.format(",")(d).replace(",", " ")).tickSize(-12).tickPadding(22))
    .call(styleAxis);
  g.append("line").attr("x1", p.x0).attr("x2", p.x0).attr("y1", p.esTop).attr("y2", 3185)
    .attr("stroke", ink).attr("stroke-width", 4.5);
  g.append("line").attr("x1", p.x0 - 2).attr("x2", xEnd + 4).attr("y1", 3183).attr("y2", 3183)
    .attr("stroke", ink).attr("stroke-width", 4.5);

  txt(g, p.letterX, 2386, p.letter, "middle", 54);
  txt(g, p.titleX, 2429, p.title, "middle");
  vtxt(g, p.yLabX, p.esLabY, "Enrichment score");
  vtxt(g, p.yLabX, p.rkLabY, "Ranked list metric");
  txt(g, p.xLabX, 3280, "Rank in ordered dataset", "middle");
});

// ===== bottom legends =====
const gL = svg.append("g");
const legendCols = [{ x: 74, sets: energySets }, { x: 1262, sets: proteinSets }, { x: 2677, sets: adhesionSets }];
legendCols.forEach(c => {
  c.sets.forEach((s, i) => {
    const y = 3373 + i * 55.5;
    gL.append("line").attr("x1", c.x - 72).attr("x2", c.x - 12).attr("y1", y + 5).attr("y2", y + 5)
      .attr("stroke", setColors[i]).attr("stroke-width", 5);
    txt(gL, c.x, y, s);
  });
});
</script>
</body>
</html>
